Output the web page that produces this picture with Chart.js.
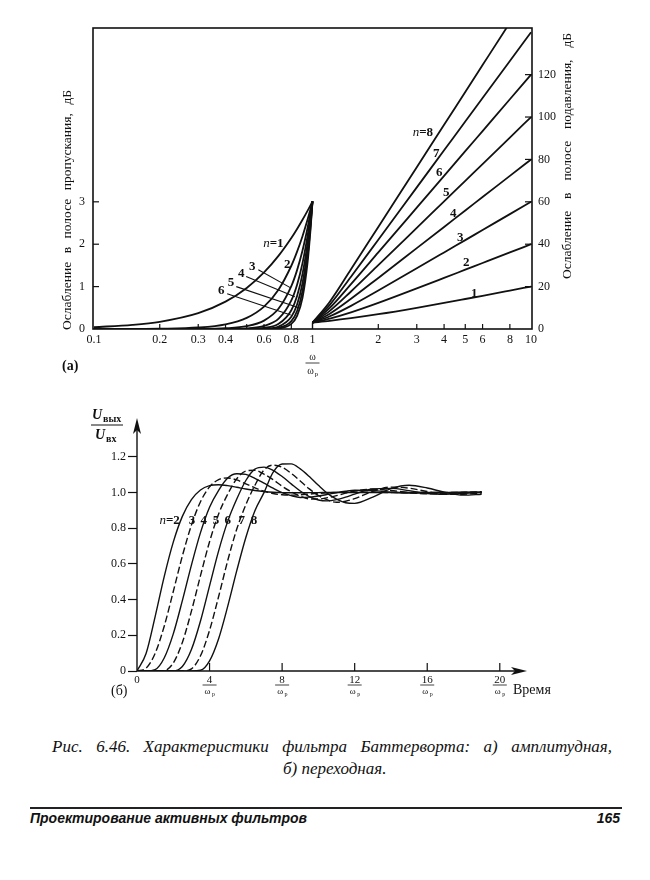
<!DOCTYPE html>
<html>
<head>
<meta charset="utf-8">
<script src="https://cdn.jsdelivr.net/npm/chart.js"></script>
<style>
  body { margin: 0; background: #fff; width: 650px; height: 880px; position: relative; overflow: hidden; color: #111; }
  canvas { position: absolute; left: 0; }
  #top { top: 0; }
  #bot { top: 400px; }
  .cap { position: absolute; font-family: "Liberation Serif", serif; font-style: italic; font-size: 17px; line-height: 20px; text-align: justify; text-align-last: justify; white-space: nowrap; }
  .rule { position: absolute; left: 30px; width: 592px; top: 807px; border-top: 2px solid #222; }
  .foot { position: absolute; top: 810px; font-family: "Liberation Sans", Arial, sans-serif; font-style: italic; font-weight: bold; font-size: 14px; }
</style>
</head>
<body>
<canvas id="top" width="650" height="390"></canvas>
<canvas id="bot" width="650" height="320"></canvas>
<div class="cap" style="left:52px;width:560px;top:737px">Рис. 6.46. Характеристики фильтра Баттерворта: а) амплитудная,</div>
<div class="cap" style="left:283px;width:100px;top:759px">б) переходная.</div>
<div class="rule"></div>
<div class="foot" style="left:30px">Проектирование активных фильтров</div>
<div class="foot" style="right:30px">165</div>
<script>
const INK = '#111';
const SERIF = '"Liberation Serif", "DejaVu Serif", serif';

// (a) attenuation, dB
const W_PASS = [0.1, 0.15, 0.2, 0.3, 0.4, 0.5, 0.6, 0.7, 0.8, 0.85, 0.9, 0.95, 0.98, 1];
const PASS_DB = [
  [0.043, 0.097, 0.170, 0.374, 0.645, 0.969, 1.335, 1.732, 2.148, 2.361, 2.577, 2.793, 2.923, 3.010],
  [0, 0.002, 0.007, 0.035, 0.110, 0.263, 0.529, 0.934, 1.492, 1.825, 2.190, 2.588, 2.838, 3.010],
  [0, 0, 0, 0.003, 0.018, 0.067, 0.198, 0.483, 1.011, 1.389, 1.851, 2.394, 2.755, 3.010],
  [0, 0, 0, 0, 0.003, 0.017, 0.072, 0.243, 0.674, 1.046, 1.555, 2.210, 2.673, 3.010],
  [0, 0, 0, 0, 0, 0.004, 0.026, 0.121, 0.443, 0.779, 1.300, 2.037, 2.594, 3.010],
  [0, 0, 0, 0, 0, 0.001, 0.009, 0.060, 0.289, 0.577, 1.080, 1.876, 2.516, 3.010],
  [0, 0, 0, 0, 0, 0, 0.003, 0.029, 0.187, 0.425, 0.894, 1.725, 2.439, 3.010],
  [0, 0, 0, 0, 0, 0, 0.001, 0.014, 0.120, 0.311, 0.738, 1.584, 2.365, 3.010]
];
const W_STOP = [1, 1.2, 1.5, 2, 3, 4, 5, 6, 8, 10];
const STOP_DB = [
  [3.01, 3.87, 5.12, 6.99, 10.0, 12.3, 14.15, 15.68, 18.13, 20.04],
  [3.01, 4.88, 7.83, 12.3, 19.14, 24.1, 27.97, 31.13, 36.12, 40.0],
  [3.01, 6.0, 10.93, 18.13, 28.63, 36.12, 41.94, 46.69, 54.19, 60.0],
  [3.01, 7.24, 14.25, 24.1, 38.17, 48.16, 55.92, 62.25, 72.25, 80.0],
  [3.01, 8.57, 17.68, 30.11, 47.71, 60.21, 69.9, 77.82, 90.31, 100.0],
  [3.01, 9.96, 21.16, 36.12, 57.25, 72.25, 83.88, 93.38, 108.37, 120.0],
  [3.01, 11.41, 24.67, 42.14, 66.8, 84.29, 97.86, 108.94, 126.43, 140.0],
  [3.01, 12.9, 28.18, 48.16, 76.34, 96.33, 111.84, 124.51, 144.5, 160.0]
];
const EDGE_W = [1, 1];
const EDGE_DB = [0, 3.01];
const X_LABELS = [0.1, 0.2, 0.3, 0.4, 0.6, 0.8, 1, 2, 3, 4, 5, 6, 8, 10];
const X_MARKS = [0.2, 0.3, 0.4, 0.5, 0.6, 0.8, 2, 3, 4, 5, 6, 8];
const PASS_TICKS = [0, 1, 2, 3];
const STOP_TICKS = [0, 20, 40, 60, 80, 100, 120];

// (б) step response
const STEP_T = [0, 0.5, 1, 1.5, 2, 2.5, 3, 3.5, 4, 4.5, 5, 5.5, 6, 6.5, 7, 7.5, 8, 8.5, 9, 9.5, 10, 10.5, 11, 11.5, 12, 13, 14, 15, 16, 17, 18, 19];
const stepN2 = [0, .098, .305, .529, .722, .866, .960, 1.014, 1.038, 1.043, 1.038, 1.029, 1.019, 1.011, 1.005, 1.001, .999, .998, .998, .999, .999, 1, 1, 1, 1, 1, 1, 1, 1, 1, 1, 1];
const stepN3 = [0, .016, .099, .251, .445, .644, .817, .948, 1.031, 1.072, 1.081, 1.070, 1.048, 1.026, 1.007, .994, .987, .985, .987, .991, .995, .998, 1.0, 1.002, 1.002, 1.001, 1, 1, 1, 1, 1, 1];
const stepN4 = [0, 0, .008, .073, .208, .394, .593, .775, .917, 1.012, 1.081, 1.105, 1.101, 1.079, 1.052, 1.024, .999, .982, .972, .974, .980, .989, .999, 1.007, 1.012, 1.010, 1.002, .996, .996, .998, 1.001, 1.002];
const stepN5 = [0, 0, 0, .002, .045, .160, .335, .534, .724, .880, .990, 1.077, 1.120, 1.124, 1.102, 1.072, 1.035, 1.004, .979, .964, .963, .971, .982, .996, 1.008, 1.018, 1.011, .999, .992, .994, 1.0, 1.004];
const stepN6 = [0, 0, 0, 0, 0, .025, .12, .28, .477, .673, .838, .963, 1.067, 1.131, 1.142, 1.124, 1.089, 1.048, 1.008, .977, .958, .953, .960, .974, .991, 1.020, 1.023, 1.010, .994, .990, .995, 1.002];
const stepN7 = [0, 0, 0, 0, 0, 0, .012, .085, .228, .417, .618, .795, .931, 1.040, 1.126, 1.153, 1.141, 1.107, 1.064, 1.020, .983, .958, .945, .951, .965, 1.006, 1.030, 1.024, 1.005, .989, .990, .997];
const stepN8 = [0, 0, 0, 0, 0, 0, 0, .004, .057, .181, .362, .562, .748, .898, .999, 1.112, 1.159, 1.160, 1.132, 1.089, 1.040, .995, .962, .942, .939, .974, 1.021, 1.040, 1.025, 1.0, .985, .990];
const STEP_SERIES = [stepN2, stepN3, stepN4, stepN5, stepN6, stepN7, stepN8];
const T_TICKS = [4, 8, 12, 16, 20];
const U_TICKS = [0, 0.2, 0.4, 0.6, 0.8, 1.0, 1.2];

// label placement (data units)
const passLabels = [
  { t: '3', x: 0.530, y: 1.48, from: [0.565, 1.40], to: [0.795, 0.97] },
  { t: '4', x: 0.472, y: 1.31, from: [0.497, 1.24], to: [0.830, 0.76] },
  { t: '5', x: 0.424, y: 1.10, from: [0.448, 1.00], to: [0.866, 0.50] },
  { t: '6', x: 0.382, y: 0.90, from: [0.407, 0.83], to: [0.795, 0.33] },
  { t: '2', x: 0.767, y: 1.52 }
];
const stopLabels = [
  { t: '7', x: 3.68, y: 82.8 }, { t: '6', x: 3.80, y: 73.9 }, { t: '5', x: 4.09, y: 64.5 },
  { t: '4', x: 4.40, y: 54.6 }, { t: '3', x: 4.74, y: 43.3 }, { t: '2', x: 5.05, y: 31.1 }, { t: '1', x: 5.50, y: 16.9 }
];
const stepLabels = [[3.03, '3'], [3.68, '4'], [4.35, '5'], [5.0, '6'], [5.78, '7'], [6.45, '8']];

function line(ctx, x0, y0, x1, y1) {
  ctx.beginPath(); ctx.moveTo(x0, y0); ctx.lineTo(x1, y1); ctx.stroke();
}
function spread(ctx, text, x0, x1, y) {
  const words = text.split(' ');
  const ws = words.map(w => ctx.measureText(w).width);
  const gap = (x1 - x0 - ws.reduce((a, b) => a + b, 0)) / (words.length - 1);
  let x = x0;
  ctx.textAlign = 'left';
  words.forEach((w, i) => { ctx.fillText(w, x, y); x += ws[i] + gap; });
}
function nLabel(ctx, rest, x, y, size) {
  ctx.font = 'italic ' + size + 'px ' + SERIF;
  const w1 = ctx.measureText('n').width;
  ctx.font = 'bold ' + size + 'px ' + SERIF;
  const w2 = ctx.measureText(rest).width;
  const x0 = x - (w1 + w2) / 2;
  ctx.textAlign = 'left';
  ctx.font = 'italic ' + size + 'px ' + SERIF;
  ctx.fillText('n', x0, y);
  ctx.font = 'bold ' + size + 'px ' + SERIF;
  ctx.fillText(rest, x0 + w1, y);
}
function omegaP(ctx, x, y, size) {
  ctx.font = size + 'px ' + SERIF;
  ctx.textAlign = 'center';
  ctx.fillText('ω', x - 2, y);
  ctx.font = (size - 3) + 'px ' + SERIF;
  ctx.fillText('p', x + 4, y + 2);
}

const topDeco = {
  id: 'topDeco',
  afterDraw(chart) {
    const { ctx, chartArea: a } = chart;
    const { x, yL, yR } = chart.scales;
    ctx.save();
    ctx.strokeStyle = INK; ctx.fillStyle = INK;
    ctx.lineWidth = 1.6;
    ctx.strokeRect(a.left, a.top, a.right - a.left, a.bottom - a.top);
    ctx.lineWidth = 1.2;
    X_MARKS.forEach(v => { const p = x.getPixelForValue(v); line(ctx, p, a.bottom, p, a.bottom - 5); });
    PASS_TICKS.slice(1).forEach(v => { const p = yL.getPixelForValue(v); line(ctx, a.left, p, a.left + 6, p); });
    STOP_TICKS.slice(1).forEach(v => { const p = yR.getPixelForValue(v); line(ctx, a.right - 7, p, a.right, p); });

    // axis titles
    ctx.font = '13.5px ' + SERIF;
    ctx.textBaseline = 'middle';
    ctx.save(); ctx.translate(67, 330); ctx.rotate(-Math.PI / 2);
    spread(ctx, 'Ослабление в полосе пропускания, дБ', 0, 240, 0);
    ctx.restore();
    ctx.save(); ctx.translate(567, 279); ctx.rotate(-Math.PI / 2);
    spread(ctx, 'Ослабление в полосе подавления, дБ', 0, 246, 0);
    ctx.restore();

    const p1 = x.getPixelForValue(1);
    ctx.textBaseline = 'alphabetic';
    ctx.font = '10px ' + SERIF; ctx.textAlign = 'center';
    ctx.fillText('ω', p1, 360);
    ctx.lineWidth = 0.8; line(ctx, p1 - 7, 363, p1 + 7, 363);
    omegaP(ctx, p1, 374, 10);
    ctx.font = 'bold 14px ' + SERIF; ctx.textAlign = 'left';
    ctx.fillText('(a)', 62, 370);

    // curve labels and leaders
    ctx.textBaseline = 'middle';
    nLabel(ctx, '=1', x.getPixelForValue(0.662), yL.getPixelForValue(2.02), 13);
    ctx.lineWidth = 1.1;
    passLabels.forEach(l => {
      ctx.font = 'bold 13px ' + SERIF; ctx.textAlign = 'center';
      ctx.fillText(l.t, x.getPixelForValue(l.x), yL.getPixelForValue(l.y));
      if (l.from) line(ctx, x.getPixelForValue(l.from[0]), yL.getPixelForValue(l.from[1]),
        x.getPixelForValue(l.to[0]), yL.getPixelForValue(l.to[1]));
    });
    nLabel(ctx, '=8', x.getPixelForValue(3.2), yR.getPixelForValue(92.7), 13);
    stopLabels.forEach(l => {
      ctx.font = 'bold 13px ' + SERIF; ctx.textAlign = 'center';
      ctx.fillText(l.t, x.getPixelForValue(l.x), yR.getPixelForValue(l.y));
    });
    ctx.restore();
  }
};

const topSets = [];
PASS_DB.forEach(row => topSets.push({
  data: W_PASS.map((w, i) => ({ x: w, y: row[i] })), yAxisID: 'yL',
  borderColor: INK, borderWidth: 1.8, pointRadius: 0, cubicInterpolationMode: 'monotone'
}));
STOP_DB.forEach(row => topSets.push({
  data: W_STOP.map((w, i) => ({ x: w, y: row[i] })), yAxisID: 'yR',
  borderColor: INK, borderWidth: 1.8, pointRadius: 0, cubicInterpolationMode: 'monotone'
}));
topSets.push({ data: EDGE_W.map((w, i) => ({ x: w, y: EDGE_DB[i] })), yAxisID: 'yR', borderColor: INK, borderWidth: 1.4, pointRadius: 0 });

const tickFont = { family: SERIF, size: 12 };

new Chart(document.getElementById('top'), {
  type: 'line',
  data: { datasets: topSets },
  options: {
    responsive: false, animation: false, parsing: false,
    layout: { padding: { top: 28, left: 0, right: 0, bottom: 0 } },
    plugins: { legend: { display: false }, tooltip: { enabled: false } },
    scales: {
      x: {
        type: 'logarithmic', min: 0.099, max: 10.1,
        afterFit: s => { s.height = 61; },
        afterBuildTicks: s => { s.ticks = X_LABELS.map(v => ({ value: v })); },
        ticks: { autoSkip: false, maxRotation: 0, padding: 4, color: INK, font: tickFont, callback: v => String(v) },
        grid: { display: false, drawTicks: false }, border: { display: false }
      },
      yL: {
        position: 'left', min: 0, max: 7.1,
        afterFit: s => { s.width = 93; },
        afterBuildTicks: s => { s.ticks = PASS_TICKS.map(v => ({ value: v })); },
        ticks: { padding: 8, color: INK, font: tickFont },
        grid: { display: false, drawTicks: false }, border: { display: false }
      },
      yR: {
        position: 'right', min: 0, max: 142,
        afterFit: s => { s.width = 118; },
        afterBuildTicks: s => { s.ticks = STOP_TICKS.map(v => ({ value: v })); },
        ticks: { padding: 6, color: INK, font: tickFont },
        grid: { display: false, drawTicks: false }, border: { display: false }
      }
    }
  },
  plugins: [topDeco]
});

const botDeco = {
  id: 'botDeco',
  afterDraw(chart) {
    const { ctx, chartArea: a } = chart;
    const { x, y } = chart.scales;
    ctx.save();
    ctx.strokeStyle = INK; ctx.fillStyle = INK; ctx.lineWidth = 1.4;
    line(ctx, a.left, a.bottom, a.right - 6, a.bottom);
    line(ctx, a.left, a.bottom, a.left, a.top + 6);
    ctx.beginPath(); ctx.moveTo(a.right, a.bottom); ctx.lineTo(a.right - 16, a.bottom - 4); ctx.lineTo(a.right - 12, a.bottom); ctx.lineTo(a.right - 16, a.bottom + 4); ctx.closePath(); ctx.fill();
    ctx.beginPath(); ctx.moveTo(a.left, a.top); ctx.lineTo(a.left - 4, a.top + 16); ctx.lineTo(a.left, a.top + 12); ctx.lineTo(a.left + 4, a.top + 16); ctx.closePath(); ctx.fill();

    ctx.lineWidth = 1.2;
    ctx.textBaseline = 'alphabetic';
    T_TICKS.forEach(v => {
      const p = x.getPixelForValue(v);
      line(ctx, p, a.bottom, p, a.bottom - 8);
      ctx.font = '11px ' + SERIF; ctx.textAlign = 'center';
      ctx.fillText(String(v), p, a.bottom + 12);
      ctx.lineWidth = 0.8; line(ctx, p - 7, a.bottom + 14, p + 7, a.bottom + 14); ctx.lineWidth = 1.2;
      omegaP(ctx, p, a.bottom + 23, 9);
    });
    ctx.font = '11px ' + SERIF; ctx.textAlign = 'center';
    ctx.fillText('0', a.left, a.bottom + 12);
    ctx.font = '14px ' + SERIF; ctx.textAlign = 'left';
    ctx.fillText('(б)', 111, a.bottom + 24);
    ctx.fillText('Время', a.right - 14, a.bottom + 23);

    // y title fraction
    const cx = 107, top = a.top;
    ctx.font = 'italic bold 14px ' + SERIF; ctx.textAlign = 'left';
    ctx.fillText('U', cx - 15, top + 1);
    ctx.font = 'bold 10px ' + SERIF;
    ctx.fillText('вых', cx - 4, top + 4);
    ctx.lineWidth = 1; line(ctx, cx - 16, top + 7, cx + 16, top + 7);
    ctx.font = 'italic bold 14px ' + SERIF;
    ctx.fillText('U', cx - 12, top + 21);
    ctx.font = 'bold 10px ' + SERIF;
    ctx.fillText('вх', cx - 1, top + 24);

    // n labels
    ctx.textBaseline = 'middle';
    nLabel(ctx, '=2', x.getPixelForValue(1.8), y.getPixelForValue(0.843), 13);
    ctx.font = 'bold 13px ' + SERIF; ctx.textAlign = 'center';
    stepLabels.forEach(l => ctx.fillText(l[1], x.getPixelForValue(l[0]), y.getPixelForValue(0.843)));
    ctx.restore();
  }
};

new Chart(document.getElementById('bot'), {
  type: 'line',
  data: {
    datasets: STEP_SERIES.map((s, i) => ({
      data: STEP_T.map((t, j) => ({ x: t, y: s[j] })),
      borderColor: INK, borderWidth: 1.4, pointRadius: 0,
      borderDash: i % 2 ? [7, 3] : [], cubicInterpolationMode: 'monotone'
    }))
  },
  options: {
    responsive: false, animation: false, parsing: false,
    layout: { padding: { top: 18, left: 0, right: 123, bottom: 0 } },
    plugins: { legend: { display: false }, tooltip: { enabled: false } },
    scales: {
      x: {
        type: 'linear', min: 0, max: 21.5,
        afterFit: s => { s.height = 49; },
        ticks: { display: false }, grid: { display: false }, border: { display: false }
      },
      y: {
        min: 0, max: 1.417,
        afterFit: s => { s.width = 137; },
        afterBuildTicks: s => { s.ticks = U_TICKS.map(v => ({ value: v })); },
        ticks: { padding: 2, color: INK, font: tickFont, callback: v => v === 0 ? '0' : v.toFixed(1) },
        grid: { drawOnChartArea: false, drawTicks: true, tickLength: 9, tickColor: INK, tickWidth: 1.2 },
        border: { display: false }
      }
    }
  },
  plugins: [botDeco]
});
</script>
</body>
</html>
